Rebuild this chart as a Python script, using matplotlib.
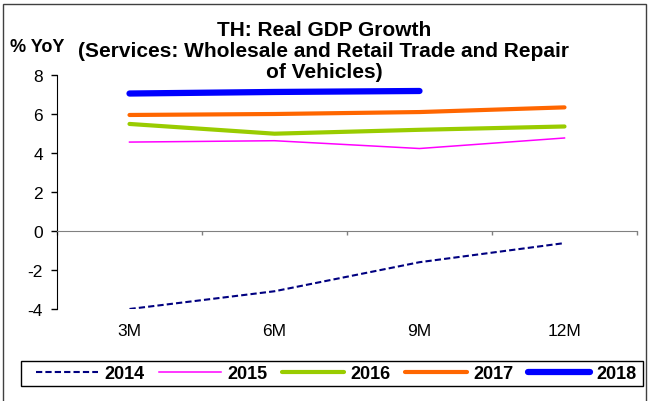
"""TH real GDP growth, wholesale/retail trade and repair of vehicles."""

import matplotlib

matplotlib.use("Agg")
import matplotlib.pyplot as plt
import matplotlib.transforms as mtransforms
import numpy as np
from matplotlib.patches import Rectangle

W, H = 648, 402

CATEGORIES = ["3M", "6M", "9M", "12M"]
YEARS = ["2014", "2015", "2016", "2017", "2018"]
GDP_2014 = [-4.0, -3.09, -1.6, -0.62]
GDP_2015 = [4.56, 4.63, 4.23, 4.77]
GDP_2016 = [5.49, 4.99, 5.19, 5.36]
GDP_2017 = [5.95, 6.0, 6.1, 6.34]
GDP_2018 = [7.05, 7.13, 7.18]
Y_TICKS = [-4, -2, 0, 2, 4, 6, 8]

TITLE = "TH: Real GDP Growth\n(Services: Wholesale and Retail Trade and Repair\nof Vehicles)"

STYLES = {
    "2014": dict(color="#000080", linewidth=1.5, linestyle=(0, (3, 1.5))),
    "2015": dict(color="#FF00FF", linewidth=1.1),
    "2016": dict(color="#99CC00", linewidth=3.0, solid_capstyle="round"),
    "2017": dict(color="#FF6600", linewidth=3.0, solid_capstyle="round"),
    "2018": dict(color="#0000FF", linewidth=4.5, solid_capstyle="round"),
}


def px(x, y):
    return x / W, 1 - y / H


def main() -> None:
    plt.rcParams["font.family"] = ["Liberation Sans", "DejaVu Sans"]
    fig = plt.figure(figsize=(W / 100, H / 100), dpi=100)
    left, top = px(57, 76)
    _, bottom = px(57, 310)
    ax = fig.add_axes([left, bottom, 580 / W, top - bottom])

    series = [GDP_2014, GDP_2015, GDP_2016, GDP_2017, GDP_2018]
    handles = []
    for year, values in zip(YEARS, series):
        (line,) = ax.plot(np.arange(len(values)), values, label=year, **STYLES[year])
        handles.append(line)

    ax.set_xlim(-0.5, len(CATEGORIES) - 0.5)
    ax.set_ylim(-4, 8)
    ax.set_yticks(Y_TICKS)
    ax.set_yticklabels([str(t) for t in Y_TICKS], fontsize=12.5)
    ax.tick_params(axis="y", direction="out", length=4, width=1, pad=6, color="#000000")

    ax.spines["top"].set_visible(False)
    ax.spines["right"].set_visible(False)
    ax.spines["left"].set_color("#000000")
    ax.spines["bottom"].set_position(("data", 0))
    ax.spines["bottom"].set_color("#808080")
    ax.set_xticks(np.arange(len(CATEGORIES) + 1) - 0.5)
    ax.set_xticklabels([])
    ax.tick_params(axis="x", direction="out", length=3, width=1, color="#808080")

    trans = mtransforms.blended_transform_factory(ax.transData, ax.transAxes)
    for i, cat in enumerate(CATEGORIES):
        ax.text(i, -22 / 234, cat, transform=trans, ha="center", va="center", fontsize=12.5)

    fig.text(0.5, 1 - 21 / H, TITLE, ha="center", va="top", fontsize=15,
             fontweight="bold", linespacing=1.12)
    fig.text(10 / W, 1 - 47 / H, "% YoY", ha="left", va="center", fontsize=13, fontweight="bold")

    # legend frame drawn separately so it can sit off-centre like the original
    fig.legend(handles=handles, loc="center", bbox_to_anchor=px(336, 374.5), ncol=5,
               prop={"weight": "bold", "size": 13}, frameon=False,
               handlelength=3.43, handletextpad=0.33, columnspacing=0.83,
               borderpad=0.25, borderaxespad=0)
    x0, y0 = px(20.7, 387)
    fig.patches.append(Rectangle((x0, y0), 622 / W, 25 / H, transform=fig.transFigure,
                                 fill=False, edgecolor="#000000", linewidth=1))

    fig.patches.append(Rectangle((3 / W, -0.1), 643 / W, 1.1 - 5 / H, transform=fig.transFigure,
                                 fill=False, edgecolor="#404040", linewidth=1))

    fig.savefig("out.png", dpi=100)


if __name__ == "__main__":
    main()
